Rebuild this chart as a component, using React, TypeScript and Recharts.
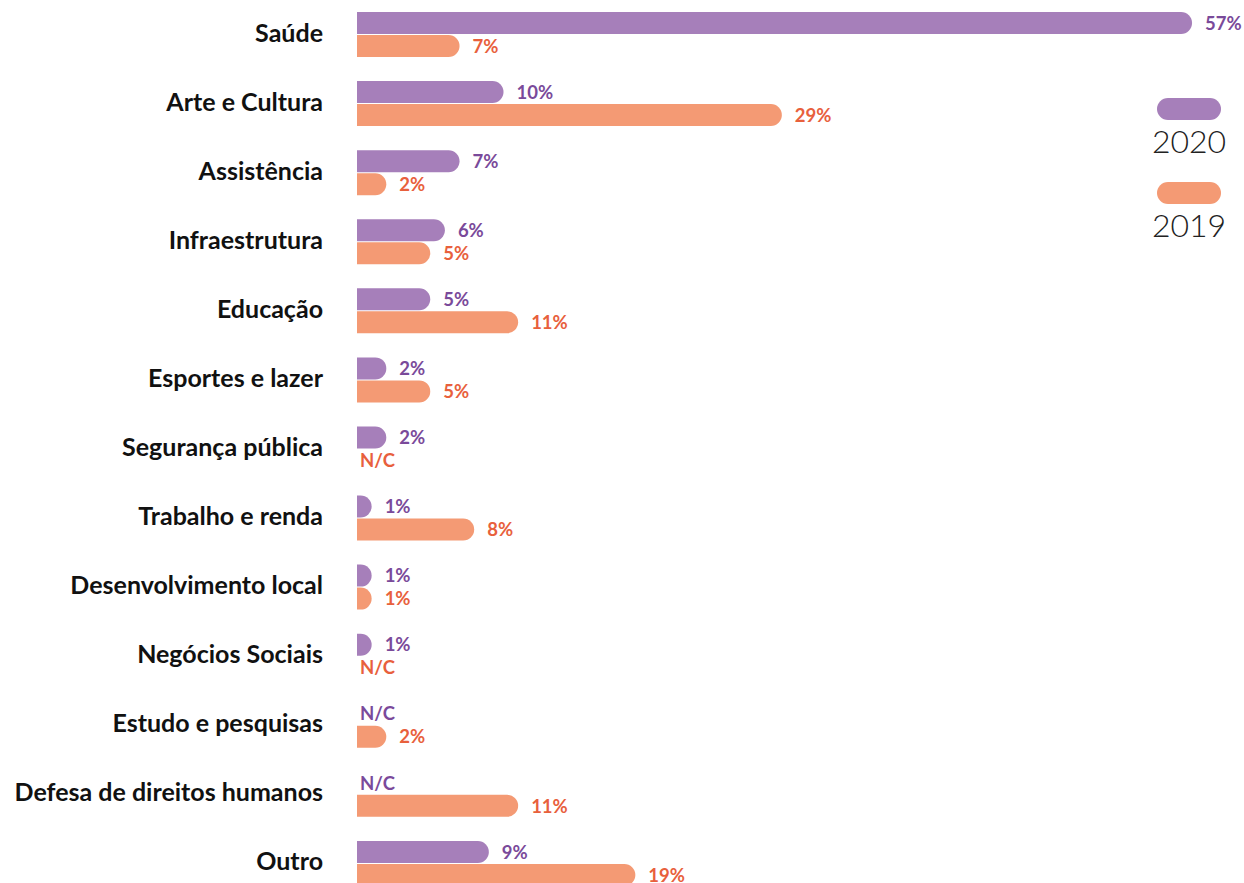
import { Bar, BarChart, LabelList, XAxis, YAxis } from "recharts";

const categories = [
  "Saúde",
  "Arte e Cultura",
  "Assistência",
  "Infraestrutura",
  "Educação",
  "Esportes e lazer",
  "Segurança pública",
  "Trabalho e renda",
  "Desenvolvimento local",
  "Negócios Sociais",
  "Estudo e pesquisas",
  "Defesa de direitos humanos",
  "Outro",
];

// 0 = N/C (não consta)
const values2020 = [57, 10, 7, 6, 5, 2, 2, 1, 1, 1, 0, 0, 9];
const values2019 = [7, 29, 2, 5, 11, 5, 0, 8, 1, 0, 2, 11, 19];

const seriesNames = ["2020", "2019"];

const data = categories.map((name, i) => ({
  name,
  y2020: values2020[i],
  y2019: values2019[i],
}));

const PURPLE = "#a67fba";
const PURPLE_TXT = "#7a4a9a";
const ORANGE = "#f49a74";
const ORANGE_TXT = "#e8603c";
const FONT = "Lato, 'Open Sans', sans-serif";

// the chart runs edge to edge, as in the print layout
if (typeof document !== "undefined") document.body.style.margin = "0";

function valueLabel(color: string) {
  return (props: any) => {
    const vb = props.viewBox || props;
    const x = Number(vb.x ?? props.x);
    const y = Number(vb.y ?? props.y);
    const h = Number(vb.height ?? props.height) || 22;
    const v = props.value;
    const missing = !v;
    const w = missing ? 0 : Number(vb.width ?? props.width) || 0;
    return (
      <text
        x={missing ? x + 3 : x + w + 13}
        y={y + h / 2}
        dy="0.36em"
        fill={color}
        fontFamily={FONT}
        fontWeight={700}
        fontSize={18.5}
      >
        {missing ? "N/C" : `${v}%`}
      </text>
    );
  };
}

// rounded right end; nothing drawn for N/C entries
function pillShape(fill: string) {
  return (props: any) => {
    const { x, y, width, height, value } = props;
    const v = Array.isArray(value) ? value[1] - value[0] : value;
    if (!v || width <= 0) return <g />;
    const r = Math.min(height / 2, width);
    const path = `M${x},${y} H${x + width - r} A${r},${height / 2} 0 0 1 ${x + width - r},${y + height} H${x} Z`;
    return <path d={path} fill={fill} />;
  };
}

function CategoryTick(props: any) {
  const { x, y, payload } = props;
  return (
    <text
      x={x}
      y={y - 2}
      dy="0.36em"
      textAnchor="end"
      fill="#111"
      fontFamily={FONT}
      fontWeight={700}
      fontSize={25}
    >
      {payload.value}
    </text>
  );
}

function LegendBox() {
  const colors = [PURPLE, ORANGE];
  return (
    <div style={{ position: "absolute", top: 98, left: 1149, width: 80, fontFamily: FONT }}>
      {seriesNames.map((label, i) => (
        <div key={label} style={{ textAlign: "center", height: 84 }}>
          <div
            style={{
              width: 64,
              height: 22,
              borderRadius: 11,
              background: colors[i],
              margin: "0 auto",
            }}
          />
          <div style={{ fontSize: 32, fontWeight: 300, color: "#222", lineHeight: "42px" }}>
            {label}
          </div>
        </div>
      ))}
    </div>
  );
}

export default function App() {
  return (
    <div style={{ position: "relative", width: 1244, background: "#fff" }}>
      <BarChart
        width={1244}
        height={898}
        data={data}
        layout="vertical"
        margin={{ top: 0, right: 8, bottom: 0, left: 0 }}
        barSize={22}
        barGap={1}
        style={{ overflow: "visible" }}
      >
        <XAxis type="number" domain={[0, 60]} hide />
        <YAxis
          type="category"
          dataKey="name"
          width={357}
          axisLine={false}
          tickLine={false}
          tickSize={0}
          tickMargin={34}
          tick={<CategoryTick />}
        />
        <Bar
          dataKey="y2020"
          fill={PURPLE}
          minPointSize={0.5}
          shape={pillShape(PURPLE)}
          isAnimationActive={false}
        >
          <LabelList dataKey="y2020" content={valueLabel(PURPLE_TXT)} />
        </Bar>
        <Bar
          dataKey="y2019"
          fill={ORANGE}
          minPointSize={0.5}
          shape={pillShape(ORANGE)}
          isAnimationActive={false}
        >
          <LabelList dataKey="y2019" content={valueLabel(ORANGE_TXT)} />
        </Bar>
      </BarChart>
      <LegendBox />
    </div>
  );
}
